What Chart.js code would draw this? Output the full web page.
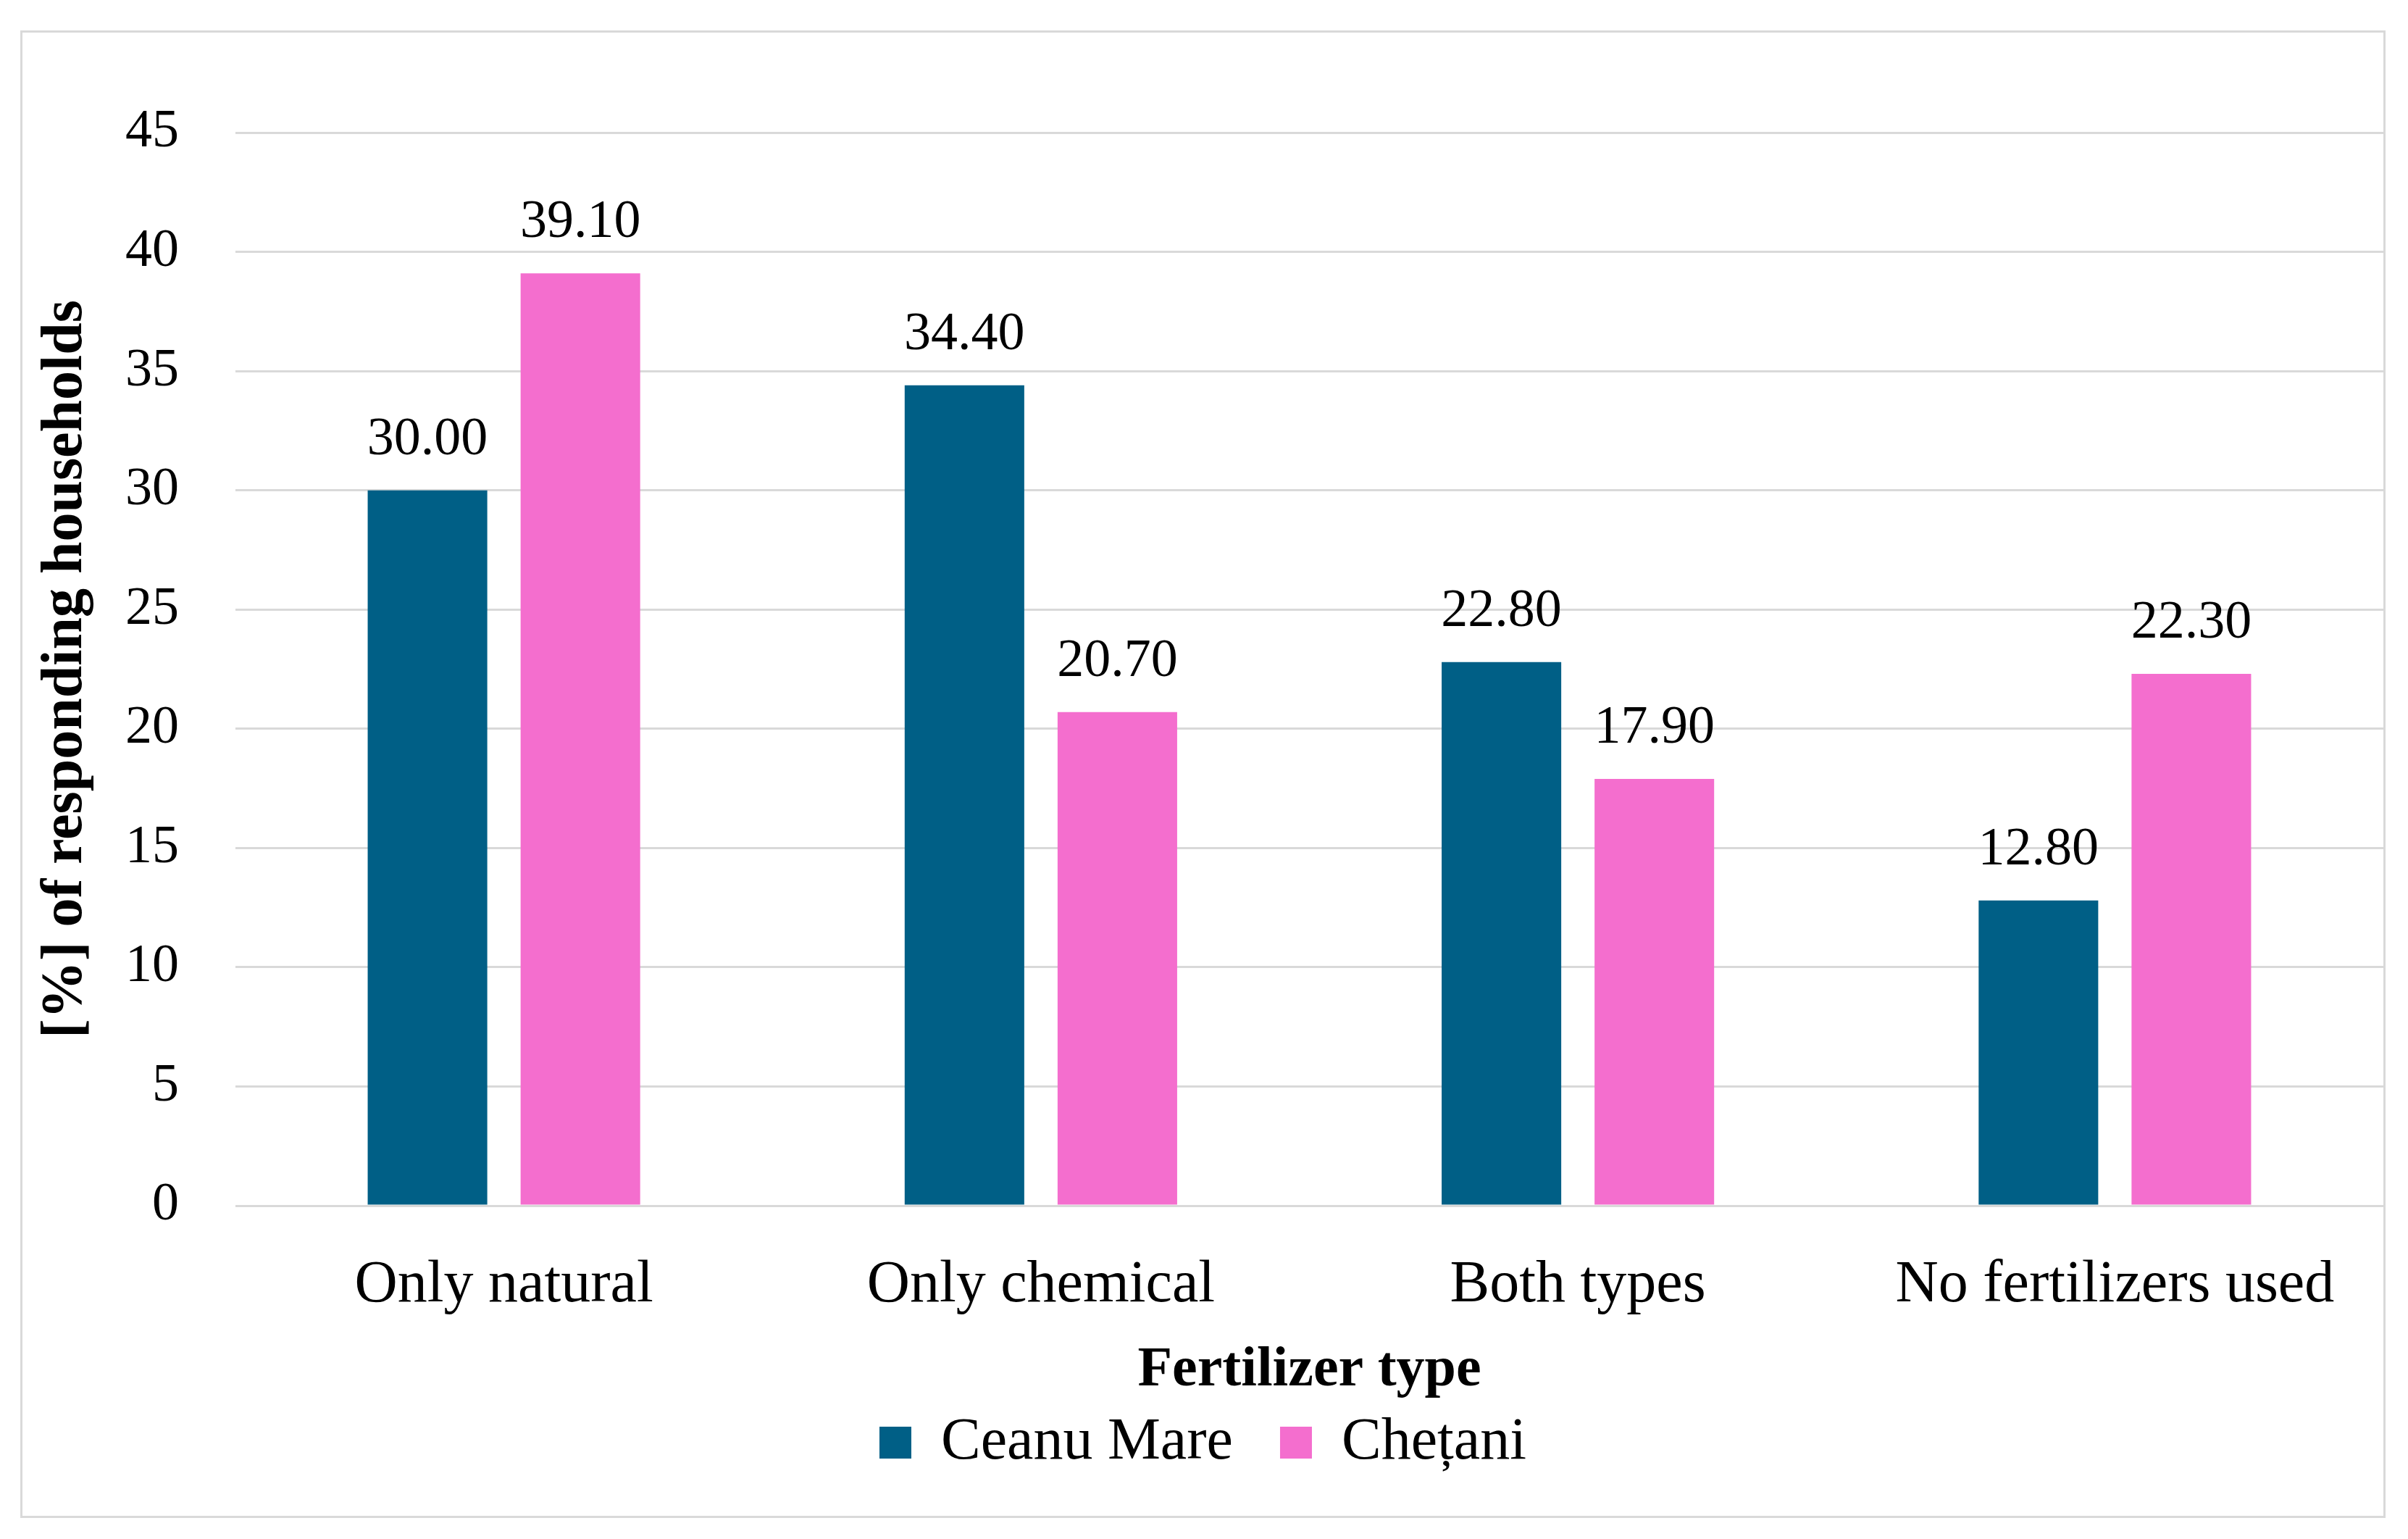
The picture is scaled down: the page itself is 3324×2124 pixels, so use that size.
<!DOCTYPE html>
<html>
<head>
<meta charset="utf-8">
<script src="https://cdn.jsdelivr.net/npm/chart.js@4.4.1/dist/chart.umd.min.js"></script>
<style>
  html, body { margin: 0; padding: 0; background: #ffffff; }
  #frame {
    position: absolute; left: 28px; top: 42px;
    width: 3265px; height: 2053px;
    border: 3px solid #d9d9d9; box-sizing: border-box; background: #ffffff;
  }
  #c { display: block; }
</style>
</head>
<body>
<div id="frame"><canvas id="c" width="3259" height="2047"></canvas></div>
<script>
const categories = ["Only natural", "Only chemical", "Both types", "No fertilizers used"];
const ceanuMare = [30.00, 34.40, 22.80, 12.80];
const chetani = [39.10, 20.70, 17.90, 22.30];
const seriesNames = ["Ceanu Mare", "Chețani"];
const yTickMin = 0, yTickMax = 45, yTickStep = 5;

const FONT = "'Liberation Serif', 'Times New Roman', serif";

const valueLabels = {
  id: 'valueLabels',
  afterDatasetsDraw(chart) {
    const ctx = chart.ctx;
    ctx.save();
    ctx.font = "74px " + FONT;
    ctx.fillStyle = "#000000";
    ctx.textAlign = "center";
    ctx.textBaseline = "alphabetic";
    chart.data.datasets.forEach((ds, di) => {
      const meta = chart.getDatasetMeta(di);
      meta.data.forEach((el, i) => {
        ctx.fillText(Number(ds.data[i]).toFixed(2), el.x, el.y - 50);
      });
    });
    ctx.restore();
  }
};

new Chart(document.getElementById('c'), {
  type: 'bar',
  data: {
    labels: categories,
    datasets: [
      { label: seriesNames[0], data: ceanuMare, backgroundColor: '#005F86', borderWidth: 0,
        categoryPercentage: 0.5695, barPercentage: 0.782 },
      { label: seriesNames[1], data: chetani, backgroundColor: '#F46ECE', borderWidth: 0,
        categoryPercentage: 0.5695, barPercentage: 0.782 }
    ]
  },
  options: {
    responsive: false,
    devicePixelRatio: 1,
    animation: false,
    layout: { padding: { top: 138, left: 0, right: 0, bottom: 50 } },
    plugins: {
      legend: {
        position: 'bottom',
        align: 'center',
        labels: {
          font: { family: FONT, size: 82 },
          color: '#000000',
          boxWidth: 44, boxHeight: 44,
          padding: 65
        }
      },
      tooltip: { enabled: false },
      title: { display: false }
    },
    scales: {
      x: {
        grid: { display: false, drawTicks: false },
        border: { display: false },
        ticks: { font: { family: FONT, size: 82 }, color: '#000000', padding: 61, maxRotation: 0 },
        title: {
          display: true, text: 'Fertilizer type', color: '#000000',
          font: { family: FONT, size: 78, weight: 'bold' },
          padding: { top: 0, bottom: -54 }
        },
        afterFit(scale) { scale.height = 221; }
      },
      y: {
        min: yTickMin, max: yTickMax,
        grid: { color: '#d9d9d9', lineWidth: 3, drawTicks: false },
        border: { display: false },
        ticks: { stepSize: yTickStep, font: { family: FONT, size: 74 }, color: '#000000', padding: 78 },
        title: {
          display: true, text: '[%] of responding households', color: '#000000',
          font: { family: FONT, size: 80, weight: 'bold' },
          padding: { top: 12, bottom: 0 }
        },
        afterFit(scale) { scale.width = 294; }
      }
    }
  },
  plugins: [valueLabels]
});
</script>
</body>
</html>
